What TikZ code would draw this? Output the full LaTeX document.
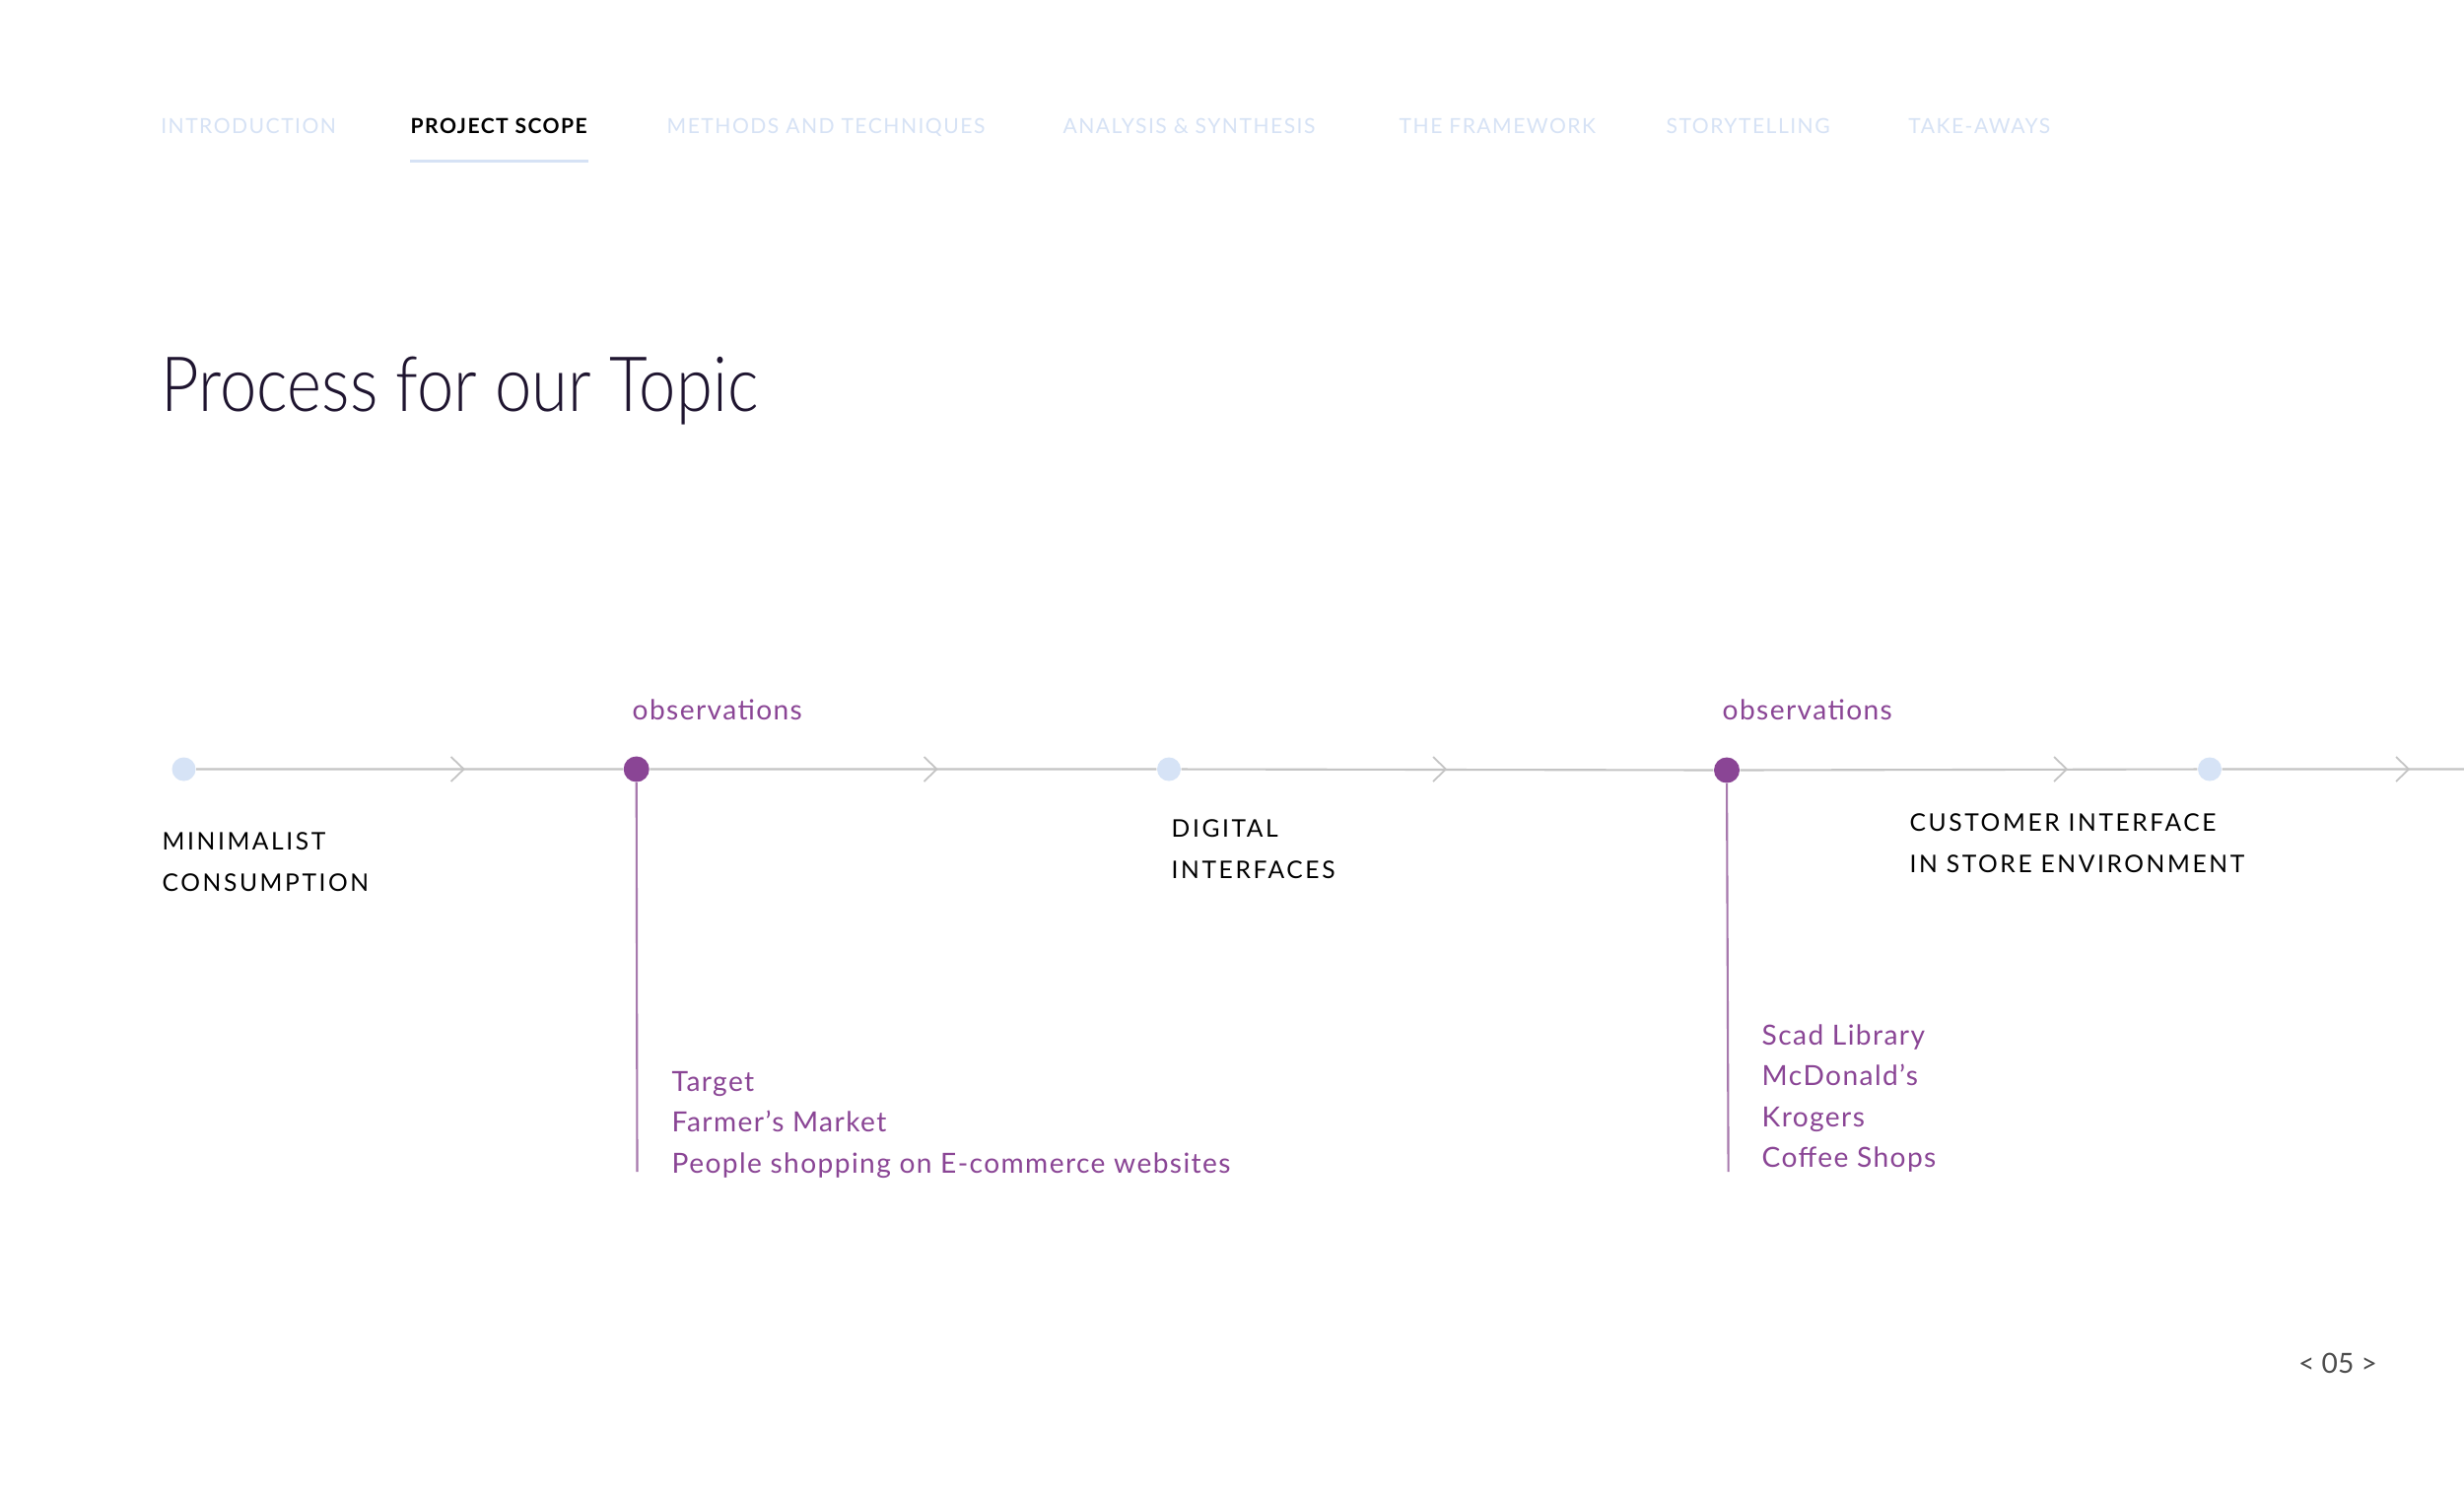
\documentclass[tikz,border=0pt]{standalone}
\usepackage{fontspec}
\setmainfont{Lato}
\newfontfamily\navfont[LetterSpace=7]{Lato}
\newfontfamily\capsfont[LetterSpace=10.5]{Lato}
\newfontfamily\bodyfont[LetterSpace=5]{Lato}
\newfontfamily\titlefont[FakeStretch=0.865]{Lato Light}
\usetikzlibrary{positioning}

\definecolor{navblue}{RGB}{214,226,245}
\definecolor{dotblue}{RGB}{214,227,246}
\definecolor{obspurple}{RGB}{138,69,149}
\definecolor{stempurple}{RGB}{167,121,173}
\definecolor{linegray}{RGB}{196,196,196}
\definecolor{titleink}{RGB}{31,21,48}

\tikzset{
  navitem/.style={anchor=base west,inner sep=0pt,text=navblue,font=\navfont\fontsize{6}{7}\selectfont},
  stage/.style={anchor=base west,inner sep=0pt,align=left,text=black,font=\capsfont\fontsize{7}{11.8}\selectfont},
  obs/.style={anchor=base west,inner sep=0pt,align=left,text=obspurple,font=\bodyfont\fontsize{8}{11.8}\selectfont},
  bluedot/.style={circle,fill=dotblue,inner sep=0pt,minimum size=24*0.01cm},
  purpledot/.style={circle,fill=obspurple,inner sep=0pt,minimum size=26*0.01cm},
}

\begin{document}
\begin{tikzpicture}[x=0.01cm,y=-0.01cm]
  \useasboundingbox[fill=white] (0,0) rectangle (2500,1514);

  % top menu
  \foreach \x/\t [count=\i] in {162.6/INTRODUCTION,676/METHODS AND TECHNIQUES,1077.8/ANALYSIS \& SYNTHESIS,1419/THE FRAMEWORK,1690/STORYTELLING,1935.6/TAKE-AWAYS}
    \node[navitem] (nav\i) at (\x,135) {\t};
  \node[navitem,text=black,font=\navfont\bfseries\fontsize{6}{7}\selectfont] (scope) at (416,135) {PROJECT SCOPE};
  \draw[navblue,line width=0.9pt] (scope.south west) ++(0,28) coordinate (ul) -- (ul -| scope.east);

  \node[anchor=base west,inner sep=0pt,text=titleink,font=\titlefont\fontsize{22}{26}\selectfont] (title) at (163,417.7) {Process for our Topic};

  % timeline
  \node[bluedot] (d1) at (186.5,780.5) {};
  \node[purpledot] (d2) at (645.7,780.5) {};
  \node[bluedot] (d3) at (1186,780.5) {};
  \node[purpledot] (d4) at (1752,781.5) {};
  \node[bluedot] (d5) at (2242,780.5) {};
  \coordinate (tend) at (2500,780.5);
  \draw[linegray,line width=0.6pt] (d1) -- (d2) -- (d3) -- (d4) -- (d5) -- (tend);
  \foreach \c in {465.6,945.5,1462,2092,2439}
    \draw[linegray,line width=0.5pt] (\c-8,768) -- (\c+5,780.5) -- (\c-8,793);

  \coordinate (s2) at (646.5,1189);
  \coordinate (s4) at (1753.6,1189);
  \draw[stempurple,line width=0.6pt] (d2) -- (s2);
  \draw[stempurple,line width=0.6pt] (d4) -- (s4);

  \node[obs] (obs1) at (641,730) {observations};
  \node[obs] (obs2) at (1747,730) {observations};

  % base of a multi-line node sits on its last line
  \node[stage] (minimal) at (164,904) {MINIMALIST\\CONSUMPTION};
  \node[stage] (digital) at (1188,891) {DIGITAL\\INTERFACES};
  \node[stage] (customer) at (1937,885) {CUSTOMER INTERFACE\\IN STORE ENVIRONMENT};

  \node[obs] (places1) at (681,1190) {Target\\Farmer’s Market\\People shopping on E-commerce websites};
  \node[obs] (places2) at (1787,1184.6) {Scad Library\\McDonald’s\\Krogers\\Coffee Shops};

  \node[anchor=base,inner sep=0pt,text=black!70,font=\fontsize{8}{9}\selectfont] (page) at (2372,1393.5) {<\ 05\ >};
\end{tikzpicture}
\end{document}
